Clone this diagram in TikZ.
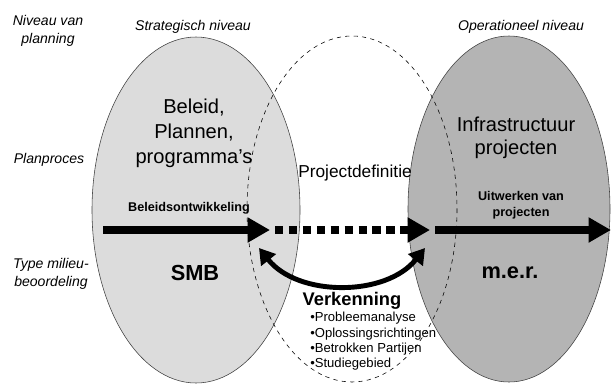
\documentclass[tikz,border=0pt]{standalone}
\usepackage{fontspec}
\setmainfont{Liberation Sans}
\usetikzlibrary{arrows.meta, positioning}
\definecolor{lightgrey}{RGB}{220,220,220}
\definecolor{midgrey}{RGB}{180,180,180}

\begin{document}
\begin{tikzpicture}[
    x=0.025cm, y=-0.025cm,
    levellabel/.style={font=\fontsize{10}{12.7}\selectfont\itshape, align=center, inner sep=0pt},
    bigtext/.style={font=\fontsize{14.3}{17.7}\selectfont, align=center, inner sep=0pt},
    smallbold/.style={font=\fontsize{9}{11.3}\selectfont\bfseries, align=center, inner sep=0pt},
    typetext/.style={font=\fontsize{15.5}{17}\selectfont\bfseries, inner sep=0pt},
    flow/.style={line width=5.8pt, -{Triangle[length=16pt, width=17pt]}},
    loop/.style={line width=3.5pt, {Triangle[length=11pt, width=13pt]}-{Triangle[length=11pt, width=13pt]}}
]
\useasboundingbox (0,0) rectangle (611,390);
%% Level ellipses
\begin{scope}
  \clip (0,0) rectangle (611,390);
  \fill[lightgrey] (196,210) ellipse [x radius=104, y radius=173];
  \draw[thin, black!75] (196,210) ellipse [x radius=104, y radius=173];
  \fill[midgrey] (509,209) ellipse [x radius=101, y radius=173];
  \draw[thin, black!75] (509,209) ellipse [x radius=101, y radius=173];
  \draw[thin, dashed] (352,209) ellipse [x radius=105, y radius=173];
\end{scope}
%% Row and column labels
\node[levellabel] (niveau)       at (48,31)  {Niveau van\\planning};
\node[levellabel] (strategisch)  at (193,27) {Strategisch niveau};
\node[levellabel] (operationeel) at (521,27) {Operationeel niveau};
\node[levellabel] (planproces)   at (49,160) {Planproces};
\node[levellabel] (typemilieu)   at (51,274) {Type milieu-\\beoordeling};
%% Ellipse contents
\node[bigtext] (beleid) at (194,133) {Beleid,\\Plannen,\\programma's};
\node[bigtext, font=\fontsize{14.3}{16.5}\selectfont] (infra) at (516,138) {Infrastructuur\\projecten};
\node[font=\fontsize{12.3}{14}\selectfont, inner sep=0pt] (projdef) at (355,173) {Projectdefinitie};
\node[smallbold] (beleidsontw) at (189,208) {Beleidsontwikkeling};
\node[smallbold] (uitwerken)   at (521,205) {Uitwerken van\\projecten};
\node[typetext] (smb) at (195,273) {SMB};
\node[typetext] (mer) at (510,273) {m.e.r.};
%% Main flow
\coordinate (flowstart) at (103,230);
\coordinate (flowa) at (270,230);
\coordinate (flowb) at (275,230);
\coordinate (flowc) at (430,230);
\coordinate (flowd) at (435,230);
\coordinate (flowend) at (611,230);
\draw[flow] (flowstart) -- (flowa);
\draw[flow, dash pattern=on 5.8pt off 4.1pt] (flowb) -- (flowc);
\draw[flow] (flowd) -- (flowend);
%% Exploration loop
\coordinate (loopleft) at (259,248);
\coordinate (loopright) at (425,248);
\draw[loop] (loopleft) .. controls (298,297) and (386,297) .. (loopright);
\node[font=\fontsize{13}{15}\selectfont\bfseries, inner sep=0pt] (verkenning) at (352,301) {Verkenning};
\node[font=\fontsize{9.3}{10.9}\selectfont, align=left, anchor=north west, inner sep=0pt] (items) at (310,312)
    {\textbullet Probleemanalyse\\\textbullet Oplossingsrichtingen\\\textbullet Betrokken Partijen\\\textbullet Studiegebied};
\end{tikzpicture}
\end{document}
